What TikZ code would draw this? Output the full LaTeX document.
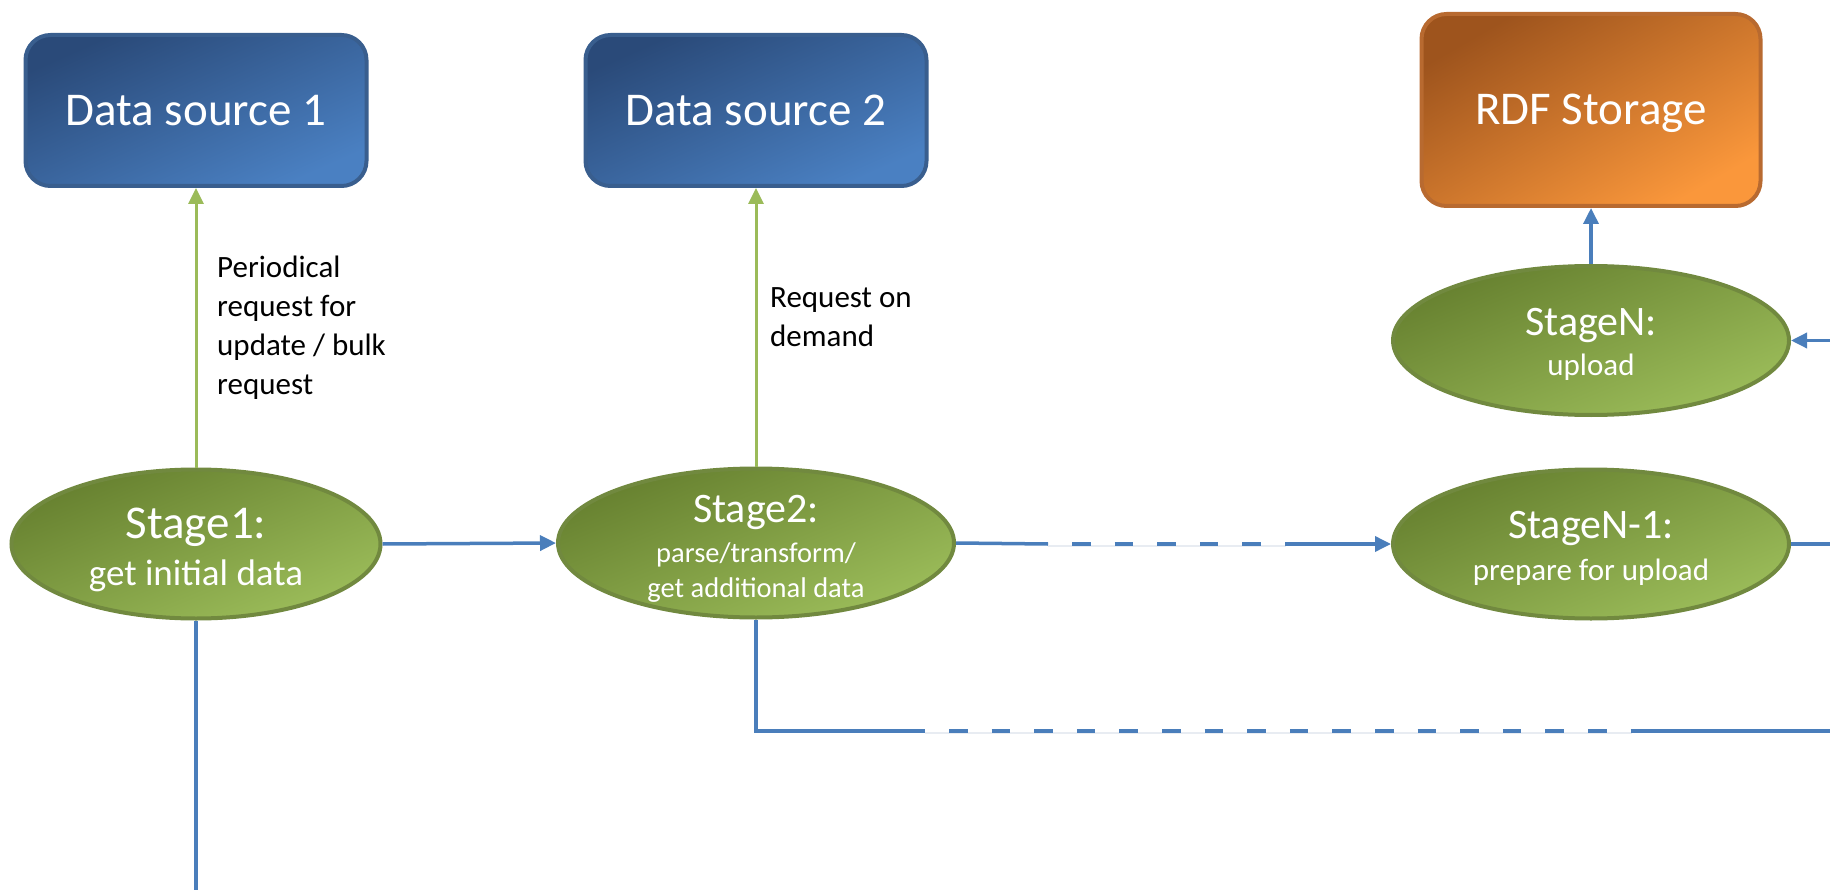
\documentclass[tikz,border=0pt]{standalone}
\usepackage{fontspec}
\setmainfont{Carlito}
\usetikzlibrary{arrows.meta,shapes.geometric}

\definecolor{boxdark}{HTML}{2A4A79}
\definecolor{boxlight}{HTML}{4A80C2}
\definecolor{boxrim}{HTML}{395E8E}
\definecolor{stdark}{HTML}{66802F}
\definecolor{stlight}{HTML}{9CBD5A}
\definecolor{strim}{HTML}{71893F}
\definecolor{stordark}{HTML}{9E541D}
\definecolor{storlight}{HTML}{FA973B}
\definecolor{storrim}{HTML}{B86A30}
\definecolor{flowblue}{HTML}{4A7EBB}
\definecolor{reqgreen}{HTML}{9BBB59}
\definecolor{gapgray}{HTML}{E8ECF2}

\newcommand\fsz[1]{\fontsize{#1}{#1}\selectfont}

\begin{document}
\begin{tikzpicture}[x=1pt,y=-1pt,
  source/.style={rectangle, rounded corners=25pt, draw=boxrim, line width=4pt,
    top color=boxdark, bottom color=boxlight, shading angle=24,
    minimum width=341pt, minimum height=151pt, inner sep=0pt,
    text=white, font=\fsz{47}, text height=30pt, text depth=0pt},
  storage/.style={source, draw=storrim, top color=stordark, bottom color=storlight,
    shading angle=30, minimum width=339pt, minimum height=192pt},
  stage/.style={ellipse, draw=strim, line width=4pt,
    top color=stdark, bottom color=stlight, shading angle=22,
    minimum width=396pt, minimum height=149pt, inner sep=0pt},
  caption/.style={text=white, inner sep=0pt, anchor=base},
  note/.style={text=black, inner sep=0pt, anchor=base west, font=\fsz{31}},
  flow/.style={draw=flowblue, line width=3.5pt},
  flowarrow/.style={flow, -{Triangle[length=16pt,width=15pt]}},
  reqarrow/.style={draw=reqgreen, line width=3pt, -{Triangle[length=16pt,width=15pt]}},
  dashflow/.style={flow, dash pattern=on 18.6pt off 24pt, dash phase=18.6pt},
  gapline/.style={draw=gapgray, line width=1.5pt, transform canvas={yshift=-2pt}}
]
\useasboundingbox (0,0) rectangle (1830,890);

% data sources and storage
\node[source] (ds1) at (196,110.5) {Data source 1};
\node[source] (ds2) at (756,110.5) {Data source 2};
\node[storage] (rdf) at (1591,110) {RDF Storage};

% processing stages
\node[stage, minimum width=369pt] (s1) at (196,544) {};
\node[stage] (s2) at (756,543) {};
\node[stage] (n1) at (1591,544) {};
\node[stage] (n) at (1591,340.5) {};

\node[caption, font=\fsz{47}] (s1t) at (196,538) {Stage1:};
\node[caption, font=\fsz{37}] (s1s) at (196,585) {get initial data};
\node[caption, font=\fsz{42}] (s2t) at (756,522) {Stage2:};
\node[caption, font=\fsz{28.5}] (s2s) at (756,562) {parse/transform/};
\node[caption, font=\fsz{28.5}] (s2u) at (756,597) {get additional data};
\node[caption, font=\fsz{42}] (n1t) at (1591,538) {StageN-1:};
\node[caption, font=\fsz{31}] (n1s) at (1591,580) {prepare for upload};
\node[caption, font=\fsz{42}] (nt) at (1591,335) {StageN:};
\node[caption, font=\fsz{31}] (ns) at (1591,375) {upload};

% request labels
\node[note] (lab1) at (217,278)
  {\vtop{\baselineskip=39pt\hbox{Periodical}\hbox{request for}\hbox{update / bulk}\hbox{request}}};
\node[note] (lab2) at (770,308)
  {\vtop{\baselineskip=39pt\hbox{Request on}\hbox{demand}}};

% free ends and dash breaks
\coordinate (d1) at (1048,544);
\coordinate (d2) at (1286,544);
\coordinate (e1) at (1830,544);
\coordinate (e2) at (1830,340.5);
\coordinate (b1) at (196,890);
\coordinate (c0) at (756,731);
\coordinate (c1) at (925,731);
\coordinate (c2) at (1632,731);
\coordinate (e3) at (1830,731);

% requests to the sources
\draw[reqarrow] (s1.north) -- (ds1.south);
\draw[reqarrow] (s2.north) -- (ds2.south);

% data flow
\draw[flowarrow] (n.north) -- (rdf.south);
\draw[flowarrow] (s1.east) -- (s2.west);
\draw[flow] (s2.east) -- (d1);
\draw[gapline] (d1) -- (d2);
\draw[dashflow] (d1) -- (d2);
\draw[flowarrow] (d2) -- (n1.west);
\draw[flow] (n1.east) -- (e1);
\draw[flowarrow] (e2) -- (n.east);
\draw[flow] (s1.south) -- (b1);
\draw[flow] (s2.south) -- (c0) -- (c1);
\draw[gapline] (c1) -- (c2);
\draw[dashflow] (c1) -- (c2);
\draw[flow] (c2) -- (e3);
\end{tikzpicture}
\end{document}
